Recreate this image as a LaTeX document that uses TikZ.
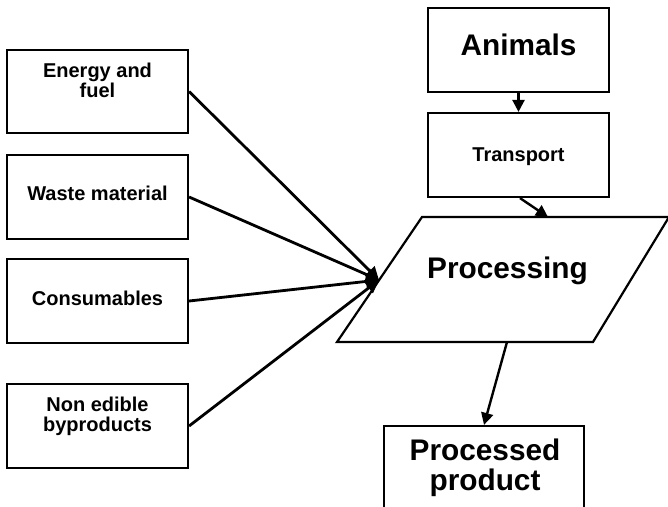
\documentclass[tikz,border=0pt]{standalone}
\usepackage{fontspec}
\setmainfont{Liberation Sans}
\usetikzlibrary{arrows.meta}
\begin{document}
\begin{tikzpicture}[x=1pt,y=-1pt,
  box/.style={draw=black, line width=2.2pt, fill=white, rectangle, inner sep=0pt},
  small/.style={font=\bfseries\fontsize{20}{20}\selectfont, inner sep=0pt, align=center},
  big/.style={font=\bfseries\fontsize{29.8}{30}\selectfont, inner sep=0pt, align=center},
  arr/.style={line width=2.8pt, -{Triangle[length=13pt,width=13pt]}},
  thinarr/.style={line width=2.4pt, -{Triangle[length=12pt,width=12pt]}},
]
\useasboundingbox[fill=white] (0,0) rectangle (668,506);

% left input boxes
\node[box, minimum width=181pt, minimum height=83pt] (energy) at (97.5,91.5) {};
\node[box, minimum width=181pt, minimum height=84pt] (waste) at (97.5,197) {};
\node[box, minimum width=181pt, minimum height=84pt] (cons) at (97.5,301) {};
\node[box, minimum width=181pt, minimum height=84pt] (nonedible) at (97.5,426) {};

\node[small, anchor=north] (energyT) at (97.5,63.0) {Energy and\\fuel};
\node[small, anchor=base] (wasteT) at (97.5,200) {Waste material};
\node[small, anchor=base] (consT) at (97.5,305) {Consumables};
\node[small, anchor=north] (nonedibleT) at (97.5,397.2) {Non edible\\byproducts};

% right column
\node[box, minimum width=181pt, minimum height=84pt] (animals) at (518.5,50) {};
\node[big, anchor=base] (animalsT) at (518.5,55) {Animals};
\node[box, minimum width=181pt, minimum height=84pt] (transport) at (518.5,155) {};
\node[small, anchor=base] (transportT) at (518.5,161) {Transport};

% processing parallelogram
\draw[line width=2.2pt, fill=white, line join=miter]
  (422,217) -- (669,217) -- (593,342) -- (337,342) -- cycle;
\node[big, anchor=base] (proc) at (507.5,278) {Processing};
\coordinate (conv) at (379,280);
\coordinate (procTop) at (548,217);
\coordinate (procBot) at (507,342);

% processed product
\node[box, minimum width=200pt, minimum height=100pt] (product) at (484,476) {};
\node[big, anchor=north] (productT) at (485,438.5) {Processed\\product};

% connectors
\draw[arr] (energy.east) -- (conv);
\draw[arr] (waste.east) -- (conv);
\draw[arr] (cons.east) -- (conv);
\draw[arr] (nonedible.east) -- (conv);
\draw[thinarr] (animals.south) -- (transport.north);
\draw[thinarr] ([xshift=1.5pt]transport.south) -- (procTop);
\draw[thinarr] (procBot) -- (product.north);
\end{tikzpicture}
\end{document}
